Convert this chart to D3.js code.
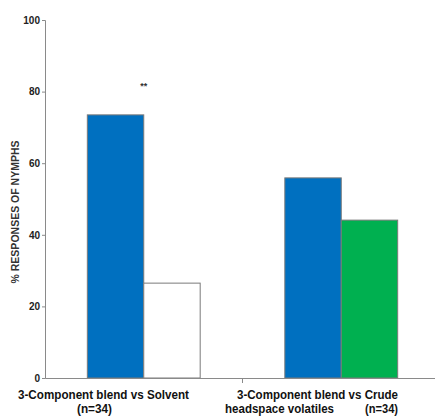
<!DOCTYPE html>
<html>
<head>
<meta charset="utf-8">
<script src="https://cdn.jsdelivr.net/npm/d3@7"></script>
<style>
  html, body { margin: 0; padding: 0; background: #fff; }
  svg { display: block; font-family: "Liberation Sans", Arial, sans-serif; }
</style>
</head>
<body>
<svg id="chart" width="435" height="416"></svg>
<script>
// Comparisons (x categories) and response percentages per bar
const categories = ["blendVsSolvent", "blendVsCrude"];
const categoryTitles = ["3-Component blend vs Solvent", "3-Component blend vs Crude"];
const categorySubtitles = ["", "headspace volatiles"];
const categoryN = ["(n=34)", "(n=34)"];
const blendValues = [73.5, 55.9];     // 3-Component blend
const controlValues = [26.5, 44.1];   // Solvent / Crude headspace volatiles
const controlColors = ["#ffffff", "#00b050"];
const significance = ["**", ""];
const yTicks = [0, 20, 40, 60, 80, 100];
const yTitle = "% RESPONSES OF NYMPHS";

const svg = d3.select("#chart");
const x0 = 45, x1 = 440;
const yBottom = 378, yTop = 20;

const x = d3.scaleBand().domain(categories).range([x0, x1]).paddingInner(0).paddingOuter(0);
const inner = d3.scaleBand().domain(["blend", "control"]).range([0, x.bandwidth()]).paddingInner(0).paddingOuter(0.75);
const y = d3.scaleLinear().domain([0, 100]).range([yBottom, yTop]);

// Bars
const bars = [];
categories.forEach((c, i) => {
  bars.push({ cat: c, key: "blend", value: blendValues[i], fill: "#0070c0" });
  bars.push({ cat: c, key: "control", value: controlValues[i], fill: controlColors[i] });
});
svg.append("g").selectAll("rect").data(bars).join("rect")
  .attr("x", d => x(d.cat) + inner(d.key))
  .attr("y", d => y(d.value))
  .attr("width", inner.bandwidth())
  .attr("height", d => y(0) - y(d.value))
  .attr("fill", d => d.fill)
  .attr("stroke", "#7a7a7a")
  .attr("stroke-width", 1);

// Y axis
const yAxis = d3.axisLeft(y).tickValues(yTicks).tickSize(3).tickPadding(2);
const gy = svg.append("g").attr("transform", `translate(${x0},0)`).call(yAxis);
gy.select(".domain").attr("stroke", "#8a8a8a");
gy.selectAll(".tick line").attr("stroke", "#8a8a8a");
gy.selectAll(".tick text").attr("font-size", 10).attr("font-weight", "bold").attr("fill", "#222")
  .attr("font-family", "'Liberation Sans', Arial, sans-serif");

// X axis
const xAxis = d3.axisBottom(x).tickSize(0).tickFormat("");
const gx = svg.append("g").attr("transform", `translate(0,${yBottom})`).call(xAxis);
gx.select(".domain").attr("stroke", "#8a8a8a");
gx.selectAll(".tick").remove();
// Category boundary ticks
svg.append("g").selectAll("line").data(categories.slice(1)).join("line")
  .attr("x1", d => x(d)).attr("x2", d => x(d))
  .attr("y1", yBottom).attr("y2", yBottom + 5)
  .attr("stroke", "#8a8a8a");

// Category labels
function label(txt, xStart, yBase, len) {
  svg.append("text")
    .attr("x", xStart).attr("y", yBase)
    .attr("font-size", 12.5)
    .attr("font-weight", "bold")
    .attr("fill", "#111")
    .attr("textLength", len)
    .attr("lengthAdjust", "spacingAndGlyphs")
    .text(txt);
}
label(categoryTitles[0], 18, 399, 171);
label(categoryN[0], 77, 413, 35);
label(categoryTitles[1], 237, 399, 161);
label(categorySubtitles[1], 225, 413, 109);
label(categoryN[1], 365, 413, 33);

// Significance marks
svg.append("g").selectAll("text").data(categories.filter((c, i) => significance[i])).join("text")
  .attr("x", d => x(d) + inner("blend") + inner.bandwidth())
  .attr("y", d => y(blendValues[categories.indexOf(d)]) - 26)
  .attr("text-anchor", "middle")
  .attr("font-size", 9)
  .attr("font-weight", "bold")
  .attr("fill", "#333")
  .text(d => significance[categories.indexOf(d)]);

// Y title
svg.append("text")
  .attr("transform", `translate(19,212) rotate(-90)`)
  .attr("text-anchor", "middle")
  .attr("font-size", 10.5)
  .attr("font-weight", "bold")
  .attr("fill", "#333")
  .text(yTitle);
</script>
</body>
</html>
